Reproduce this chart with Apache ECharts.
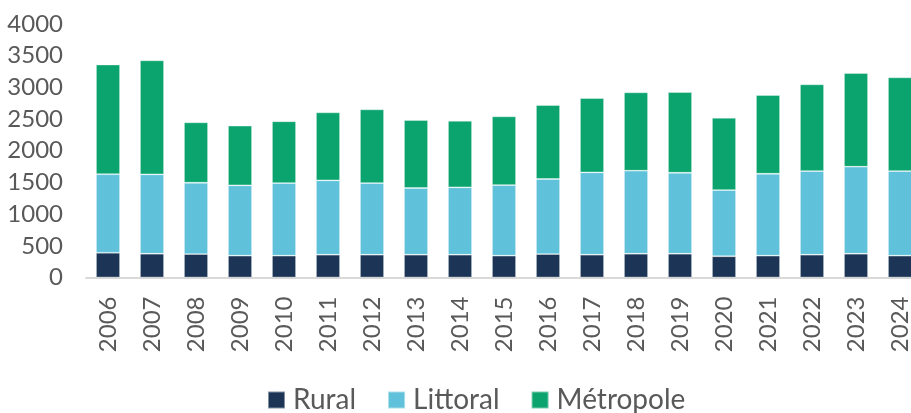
<!DOCTYPE html>
<html>
<head>
<meta charset="utf-8">
<script src="https://cdn.jsdelivr.net/npm/echarts@6/dist/echarts.min.js"></script>
<style>
  html, body { margin: 0; padding: 0; background: #fff; }
  #chart { width: 911px; height: 413px; }
</style>
</head>
<body>
<div id="chart"></div>
<script>
  var years = ['2006', '2007', '2008', '2009', '2010', '2011', '2012', '2013', '2014', '2015',
    '2016', '2017', '2018', '2019', '2020', '2021', '2022', '2023', '2024']
  var rural = [390, 375, 370, 345, 345, 360, 360, 360, 360, 345, 370, 360, 375, 375, 335, 345, 360, 375, 345]
  var littoral = [1240, 1253, 1125, 1110, 1145, 1173, 1130, 1052, 1063, 1114, 1184, 1299, 1310, 1278, 1045, 1292, 1320, 1373, 1335]
  var metropole = [1730, 1798, 953, 940, 975, 1072, 1163, 1072, 1050, 1083, 1167, 1172, 1236, 1273, 1141, 1242, 1367, 1478, 1478]

  var textColor = '#595959'
  var font = 'Lato'

  function barSeries(name, data, color) {
    return {
      name: name,
      type: 'bar',
      stack: 'total',
      barWidth: 24,
      data: data,
      itemStyle: {
        color: color,
        borderColor: 'rgba(255,255,255,0.45)',
        borderWidth: 0.8
      }
    }
  }

  var chart = echarts.init(document.getElementById('chart'))
  var option = {
    animation: false,
    textStyle: { fontFamily: font },
    grid: {
      left: 86,
      top: 24,
      width: 836,
      bottom: 135.5,
      containLabel: false,
      outerBoundsMode: 'none'
    },
    legend: {
      left: 262,
      top: 381,
      icon: 'rect',
      itemWidth: 17,
      itemHeight: 17,
      itemGap: 31,
      textStyle: {
        fontFamily: font,
        fontSize: 28,
        color: textColor,
        padding: [0, 0, 0, 3]
      },
      data: ['Rural', 'Littoral', 'Métropole']
    },
    xAxis: {
      type: 'category',
      data: years,
      axisLine: { lineStyle: { color: '#d9d9d9', width: 2 } },
      axisTick: { show: false },
      axisLabel: {
        rotate: 90,
        margin: 19,
        fontSize: 24,
        color: textColor,
        fontFamily: font,
        interval: 0
      }
    },
    yAxis: {
      type: 'value',
      min: 0,
      max: 4000,
      interval: 500,
      splitLine: { show: false },
      axisLine: { show: false },
      axisTick: { show: false },
      axisLabel: {
        margin: 23,
        fontSize: 24,
        color: textColor,
        fontFamily: font,
        formatter: function (v) { return String(v) }
      }
    },
    series: [
      barSeries('Rural', rural, '#1c3557'),
      barSeries('Littoral', littoral, '#60c2da'),
      barSeries('Métropole', metropole, '#0ba46f')
    ]
  }
  chart.setOption(option)
</script>
</body>
</html>
